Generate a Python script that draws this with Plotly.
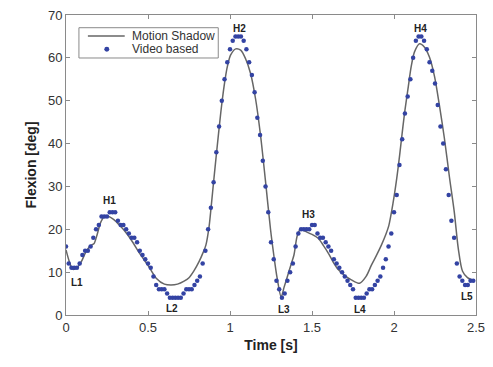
import numpy as np
import plotly.graph_objects as go

# Video based samples (60 Hz), flexion in degrees
video_dt = 1.0 / 60.0
video_vals = [
    16, 12, 11, 11, 11, 12, 14, 15, 15, 16,
    18, 20, 21, 23, 23, 23, 24, 24, 24, 22,
    21, 21, 20, 19, 18, 18, 17, 15, 14, 13,
    12, 11, 9, 7, 6, 6, 6, 5, 4, 4,
    4, 4, 4, 5, 6, 6, 6, 7, 8, 9,
    12, 15, 20, 25, 31, 38, 44, 50, 55, 59,
    62, 64, 65, 65, 65, 64, 62, 59, 56, 52,
    46, 42, 36, 30, 24, 17, 13, 8, 6, 4,
    5, 8, 10, 12, 16, 19, 20, 20, 20, 20,
    21, 21, 19, 18, 18, 17, 16, 15, 13, 12,
    11, 10, 9, 8, 7, 6, 4, 4, 4, 4,
    5, 6, 6, 7, 8, 9, 11, 13, 16, 19,
    24, 28, 35, 41, 47, 51, 55, 60, 64, 65,
    65, 64, 62, 59, 57, 54, 49, 44, 40, 34,
    28, 22, 18, 12, 9, 8, 7, 7, 8, 8,
]
video_t = [i * video_dt for i in range(len(video_vals))]

# Motion Shadow curve (read at key times)
shadow_t = [0.0, 0.02, 0.04, 0.06, 0.09, 0.12, 0.15, 0.17, 0.19, 0.21, 0.23, 0.26,
            0.29, 0.33, 0.37, 0.41, 0.45, 0.50, 0.55, 0.60, 0.64, 0.68, 0.72, 0.75,
            0.78, 0.812, 0.835, 0.853, 0.873, 0.887, 0.903, 0.917, 0.944, 0.964,
            0.984, 1.004,
            1.035, 1.065, 1.095, 1.125, 1.156, 1.186, 1.216, 1.247, 1.267, 1.287,
            1.312, 1.33, 1.35, 1.37, 1.39, 1.41, 1.43, 1.46, 1.50, 1.54, 1.57, 1.60,
            1.63, 1.66, 1.70, 1.74, 1.79, 1.83, 1.863, 1.893, 1.923, 1.95, 1.968,
            1.994, 2.015, 2.035, 2.044, 2.065, 2.085, 2.105, 2.125, 2.156, 2.186,
            2.216, 2.247, 2.277, 2.307, 2.338, 2.368, 2.392, 2.418, 2.448, 2.488]
shadow_vals = [15.2, 12.5, 10.7, 10.8, 12.2, 14.6, 16.2, 16.6, 18.8, 21.5, 22.8, 23.0,
               22.3, 20.8, 19.0, 16.8, 14.3, 11.6, 8.6, 7.2, 7.0, 7.2, 7.9, 8.7,
               10.3, 12.5, 14.5, 16.3, 20.8, 26.0, 32.2, 37.5, 47.3, 53.4,
               58.0, 60.7,
               62.1, 61.8, 59.8, 56.4, 50.4, 42.0, 31.4, 20.0, 14.0, 8.7,
               4.2, 6.5, 9.0, 11.5, 14.0, 18.5, 20.0, 19.5, 18.8, 17.8, 16.2, 14.4,
               12.3, 10.6, 9.2, 8.2, 7.4, 9.0, 11.7, 13.9, 16.3, 18.8, 20.8,
               26.1, 31.4, 37.5, 40.5, 47.3, 52.7, 58.0, 61.4, 63.3, 62.5,
               60.2, 55.7, 48.9, 41.3, 32.2, 23.9, 15.5, 10.2, 8.7, 8.0]

# Event labels
event_labels = ["H1", "H2", "H3", "H4", "L1", "L2", "L3", "L4", "L5"]
event_x = [0.267, 1.055, 1.479, 2.164, 0.067, 0.648, 1.327, 1.794, 2.448]
event_y = [26.8, 66.9, 23.4, 66.9, 7.5, 1.6, 1.4, 1.4, 4.3]

series_names = ["Motion Shadow", "Video based"]

x_ticks = [0, 0.5, 1, 1.5, 2, 2.5]
x_ticklabels = ["0", "0.5", "1", "1.5", "2", "2.5"]
y_ticks = [0, 10, 20, 30, 40, 50, 60, 70]

LINE_COLOR = "#666666"
DOT_COLOR = "#3343a3"
FONT = "Liberation Sans, Arial"

fig = go.Figure()
fig.add_trace(go.Scatter(
    x=shadow_t, y=shadow_vals, mode="lines", name=series_names[0],
    line=dict(color=LINE_COLOR, width=1.5, shape="spline", smoothing=0.8),
    showlegend=False,
))
fig.add_trace(go.Scatter(
    x=video_t, y=video_vals, mode="markers", name=series_names[1],
    marker=dict(color=DOT_COLOR, size=4.5),
    showlegend=False,
))

for lab, lx, ly in zip(event_labels, event_x, event_y):
    fig.add_annotation(x=lx, y=ly, text="<b>%s</b>" % lab, showarrow=False,
                       font=dict(family=FONT, size=10, color="#222"),
                       xanchor="center", yanchor="middle")

# Hand-built legend (matches the compact MATLAB-style box)
PL, PT, PW, PH = 66, 8, 412, 307

def px2paper_x(px):
    return (px - PL) / float(PW)

def px2paper_y(py):
    return (PT + PH - py) / float(PH)

fig.add_shape(type="rect", xref="paper", yref="paper",
              x0=px2paper_x(79), x1=px2paper_x(219), y0=px2paper_y(52), y1=px2paper_y(21),
              line=dict(color="#8a8a8a", width=1), fillcolor="white", layer="above")
fig.add_shape(type="line", xref="paper", yref="paper",
              x0=px2paper_x(88), x1=px2paper_x(125), y0=px2paper_y(29.5), y1=px2paper_y(29.5),
              line=dict(color=LINE_COLOR, width=1.5), layer="above")
fig.add_shape(type="circle", xref="paper", yref="paper",
              x0=px2paper_x(104.5), x1=px2paper_x(109.5), y0=px2paper_y(45.5), y1=px2paper_y(40.5),
              line=dict(color=DOT_COLOR, width=0), fillcolor=DOT_COLOR, layer="above")
for name, py in zip(series_names, [29.5, 43]):
    fig.add_annotation(xref="paper", yref="paper", x=px2paper_x(130), y=px2paper_y(py),
                       text=name, showarrow=False, xanchor="left", yanchor="middle",
                       font=dict(family=FONT, size=12, color="#333"))

axis_common = dict(
    showline=True, linecolor="#8a8a8a", linewidth=1, mirror="ticks",
    ticks="inside", ticklen=4, tickcolor="#8a8a8a", showgrid=False, zeroline=False,
    tickfont=dict(family=FONT, size=13, color="#333"),
    ticklabeloverflow="allow",
)

fig.update_layout(
    width=493, height=367,
    margin=dict(l=PL, r=493 - PL - PW, t=PT, b=367 - PT - PH),
    paper_bgcolor="white", plot_bgcolor="white",
    showlegend=False,
    xaxis=dict(range=[0, 2.5], tickvals=x_ticks, ticktext=x_ticklabels,
               title=dict(text="<b>Time [s]</b>", standoff=6,
                          font=dict(family=FONT, size=14, color="#222")),
               **axis_common),
    yaxis=dict(range=[0, 70], tickvals=y_ticks,
               title=dict(text="<b>Flexion [deg]</b>", standoff=8,
                          font=dict(family=FONT, size=14, color="#222")),
               **axis_common),
)

fig.write_html("out.html", config={"displayModeBar": False},
               post_script="document.body.style.margin='0';document.body.style.overflow='hidden';")
